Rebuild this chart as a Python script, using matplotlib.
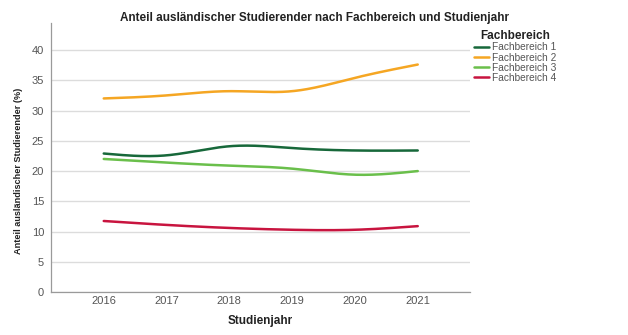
import numpy as np
import matplotlib
matplotlib.use("Agg")
import matplotlib.pyplot as plt

years = [2016, 2017, 2018, 2019, 2020, 2021]
series_names = ["Fachbereich 1", "Fachbereich 2", "Fachbereich 3", "Fachbereich 4"]
fb1 = [22.9, 22.6, 24.1, 23.8, 23.4, 23.4]
fb2 = [32.0, 32.5, 33.2, 33.2, 35.4, 37.6]
fb3 = [22.0, 21.4, 20.9, 20.4, 19.4, 20.0]
fb4 = [11.75, 11.1, 10.6, 10.3, 10.3, 10.9]
colors = ["#17683a", "#f5a623", "#6abf4b", "#c8143f"]
yticks = [0, 5, 10, 15, 20, 25, 30, 35, 40]


def natural_spline(x, y, n=200):
    x = np.asarray(x, float)
    y = np.asarray(y, float)
    k = len(x)
    h = np.diff(x)
    A = np.zeros((k, k))
    b = np.zeros(k)
    A[0, 0] = 1
    A[-1, -1] = 1
    for i in range(1, k - 1):
        A[i, i - 1] = h[i - 1]
        A[i, i] = 2 * (h[i - 1] + h[i])
        A[i, i + 1] = h[i]
        b[i] = 3 * ((y[i + 1] - y[i]) / h[i] - (y[i] - y[i - 1]) / h[i - 1])
    c = np.linalg.solve(A, b)
    xs = np.linspace(x[0], x[-1], n)
    ys = np.empty_like(xs)
    for j, xv in enumerate(xs):
        i = min(np.searchsorted(x, xv, side="right") - 1, k - 2)
        dx = xv - x[i]
        bi = (y[i + 1] - y[i]) / h[i] - h[i] * (2 * c[i] + c[i + 1]) / 3
        di = (c[i + 1] - c[i]) / (3 * h[i])
        ys[j] = y[i] + bi * dx + c[i] * dx ** 2 + di * dx ** 3
    return xs, ys


plt.rcParams['font.family'] = ['Liberation Sans', 'DejaVu Sans']

fig = plt.figure(figsize=(6.28, 3.35), dpi=100)
ax = fig.add_axes([0.0812, 0.128, 0.667, 0.804])

for name, vals, col in zip(series_names, [fb1, fb2, fb3, fb4], colors):
    xs, ys = natural_spline(years, vals)
    ax.plot(xs, ys, color=col, lw=1.8, label=name, solid_capstyle='round')

ax.set_xlim(2015.16, 2021.83)
ax.set_ylim(0, 44.5)
ax.set_xticks(years)
ax.set_yticks(yticks)
ax.yaxis.grid(True, color="#dcdcdc", lw=1)
ax.set_axisbelow(True)
for s in ["top", "right"]:
    ax.spines[s].set_visible(False)
for s in ["left", "bottom"]:
    ax.spines[s].set_color("#9a9a9a")
    ax.spines[s].set_linewidth(0.9)
ax.tick_params(axis='both', length=0, labelsize=8, labelcolor="#555555")
ax.tick_params(axis='y', pad=5)
ax.tick_params(axis='x', pad=3)

fig.text(0.5, 1 - 17.5 / 335, "Anteil ausländischer Studierender nach Fachbereich und Studienjahr",
         fontsize=8.5, fontweight='bold', color="#222222", ha='center', va='center')
ax.set_xlabel("Studienjahr", fontsize=8.5, fontweight='bold', color="#222222", labelpad=6)
ax.set_ylabel("Anteil ausländischer Studierender (%)", fontsize=6.6, fontweight='bold',
              color="#222222")
ax.yaxis.set_label_coords(-0.066, 0.45)

leg = ax.legend(loc='upper left', bbox_to_anchor=(0.995, 0.995), frameon=False,
                title="Fachbereich", fontsize=7.3, handlelength=1.5, handletextpad=0.3,
                labelspacing=0.02, borderaxespad=0.2)
leg.get_title().set_fontweight('bold')
leg.get_title().set_fontsize(8.5)
leg.get_title().set_color("#222222")
for t in leg.get_texts():
    t.set_color("#555555")

fig.savefig("out.png", dpi=100)
